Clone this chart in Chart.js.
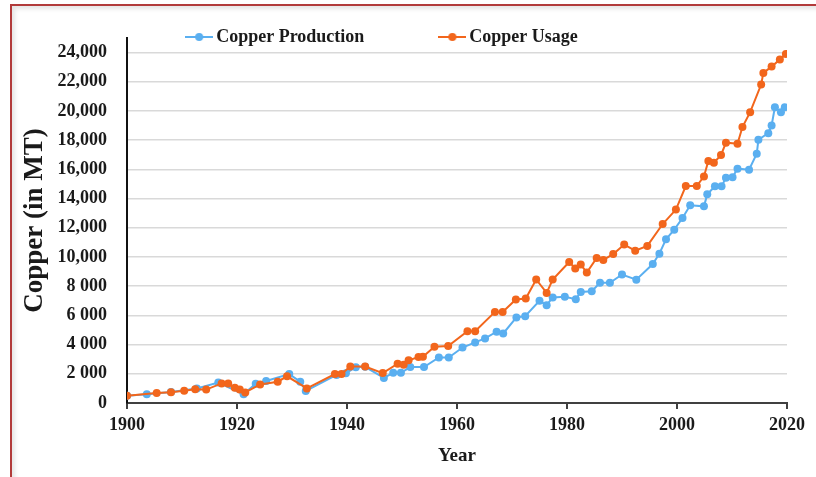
<!DOCTYPE html>
<html>
<head>
<meta charset="utf-8">
<script src="https://cdn.jsdelivr.net/npm/chart.js@4.4.1/dist/chart.umd.min.js"></script>
<style>
html, body { margin: 0; padding: 0; background: #fff; }
#wrap { position: relative; width: 816px; height: 477px; overflow: hidden; }
#frame { position: absolute; left: 10px; top: 4px; width: 820px; height: 490px;
  border-top: 2px solid #b23b3b; border-left: 2px solid #b23b3b;
  box-shadow: inset 3px 3px 4px rgba(0,0,0,0.10); }
canvas { position: absolute; left: 0; top: 0; }
</style>
</head>
<body>
<div id="wrap"><div id="frame"></div><canvas id="myChart" width="816" height="477"></canvas></div>
<script>
// copper production (blue)
const prodYears = [1900, 1903.6, 1908, 1912.7, 1916.6, 1921.2, 1923.4, 1925.3, 1929.5, 1931.5, 1932.5,
  1938.1, 1939.8, 1941.6, 1943.3, 1946.7, 1948.4, 1949.8, 1951.5, 1954, 1956.7, 1958.5,
  1961, 1963.3, 1965.1, 1967.2, 1968.4, 1970.8, 1972.4, 1975, 1976.3, 1977.4, 1979.6,
  1981.6, 1982.5, 1984.5, 1986, 1987.8, 1990, 1992.6, 1995.6, 1996.8, 1998, 1999.5,
  2001, 2002.4, 2004.9, 2005.5, 2006.9, 2008.1, 2008.9, 2010.1, 2011, 2013.1, 2014.5,
  2014.8, 2016.6, 2017.2, 2017.8, 2018.9, 2019.6];
const prodValues = [500, 600, 750, 1000, 1400, 600, 1320, 1510, 1980, 1460, 830,
  1920, 2030, 2450, 2480, 1720, 2070, 2070, 2460, 2460, 3120, 3120,
  3800, 4150, 4420, 4880, 4760, 5860, 5950, 7000, 6700, 7230, 7270,
  7110, 7610, 7660, 8230, 8230, 8800, 8450, 9520, 10230, 11210, 11870,
  12670, 13540, 13470, 14290, 14840, 14840, 15430, 15470, 16050, 15980, 17070,
  18030, 18480, 19010, 20260, 19920, 20260];

// copper usage (orange)
const usageYears = [1900, 1905.4, 1908, 1910.4, 1912.4, 1914.4, 1917.2, 1918.4, 1919.6, 1920.5, 1921.5,
  1924.2, 1927.4, 1929.1, 1932.7, 1937.8, 1939, 1940.6, 1943.3, 1946.5, 1949.2, 1950.3,
  1951.2, 1953, 1953.8, 1955.9, 1958.4, 1961.9, 1963.3, 1966.9, 1968.3, 1970.7, 1972.5,
  1974.4, 1976.3, 1977.4, 1980.4, 1981.5, 1982.5, 1983.6, 1985.4, 1986.6, 1988.4, 1990.4,
  1992.4, 1994.6, 1997.4, 1999.8, 2001.6, 2003.6, 2004.9, 2005.7, 2006.7, 2008, 2008.9,
  2011, 2011.9, 2013.3, 2015.3, 2015.7, 2017.2, 2018.7, 2019.8];
const usageValues = [500, 690, 730, 840, 940, 920, 1340, 1340, 1040, 920, 720,
  1270, 1460, 1830, 1000, 1980, 1980, 2500, 2500, 2050, 2690, 2620,
  2920, 3150, 3170, 3850, 3900, 4920, 4920, 6240, 6240, 7090, 7160,
  8460, 7540, 8460, 9660, 9210, 9480, 8940, 9940, 9800, 10200, 10850,
  10430, 10760, 12260, 13250, 14860, 14860, 15520, 16570, 16460, 16980, 17830,
  17760, 18900, 19920, 21810, 22610, 23040, 23520, 23910];

const xTickValues = [1900, 1920, 1940, 1960, 1980, 2000, 2020];
const yTickValues = [0, 2000, 4000, 6000, 8000, 10000, 12000, 14000, 16000, 18000, 20000, 22000, 24000];
const yTickLabels = ['0', '2 000', '4 000', '6 000', '8 000', '10,000', '12,000', '14,000', '16,000', '18,000', '20,000', '22,000', '24,000'];

const blue = '#5aaff0';
const orange = '#f2661c';
const serif = 'Liberation Serif';
const legendDX = -9;
const legendPad = 80;

function legendIcon(color) {
  const c = document.createElement('canvas');
  c.width = 28; c.height = 12;
  const g = c.getContext('2d');
  g.strokeStyle = color; g.lineWidth = 2;
  g.beginPath(); g.moveTo(0, 6); g.lineTo(28, 6); g.stroke();
  g.fillStyle = color;
  g.beginPath(); g.arc(14, 6, 4, 0, Math.PI * 2); g.fill();
  return c;
}
const legendIcons = [legendIcon(blue), legendIcon(orange)];

// keep the legend out of the layout, then put it level with the axis top
const legendShift = {
  id: 'legendShift',
  afterInit(chart) {
    const lg = chart.legend;
    const fit = lg.fit.bind(lg);
    lg.fit = function () { fit(); this.realHeight = this.height; this.height = 0; };
  },
  afterLayout(chart) {
    const lg = chart.legend;
    const h = lg.realHeight;
    lg.top = 37 - legendPad - 9;
    lg.bottom = lg.top + h;
    lg.height = h;
    lg.left += legendDX;
    lg.right += legendDX;
  }
};

let ctx = document.getElementById('myChart').getContext('2d');
let chart = new Chart(ctx, {
    type: 'line',
    data: {
        datasets: [{
            label: 'Copper Production',
            data: prodYears.map((x, i) => ({ x: x, y: prodValues[i] })),
            borderColor: blue,
            backgroundColor: blue,
            pointBackgroundColor: blue,
            borderWidth: 2,
            pointRadius: 4,
            pointBorderWidth: 0,
            order: 1
        }, {
            label: 'Copper Usage',
            data: usageYears.map((x, i) => ({ x: x, y: usageValues[i] })),
            borderColor: orange,
            backgroundColor: orange,
            pointBackgroundColor: orange,
            borderWidth: 2,
            pointRadius: 4,
            pointBorderWidth: 0,
            order: 0
        }]
    },
    options: {
        responsive: false,
        animation: false,
        layout: { padding: { top: 38, right: 29, bottom: 0, left: 0 } },
        plugins: {
            tooltip: { enabled: false },
            legend: {
                position: 'top',
                labels: {
                    usePointStyle: true,
                    pointStyleWidth: 16,
                    padding: legendPad,
                    color: '#1a1a1a',
                    font: { family: serif, size: 18, weight: 'bold' },
                    sort: (a, b) => a.datasetIndex - b.datasetIndex,
                    generateLabels(chart) {
                        const items = Chart.defaults.plugins.legend.labels.generateLabels(chart);
                        items.forEach(it => { it.pointStyle = legendIcons[it.datasetIndex]; });
                        return items;
                    }
                }
            }
        },
        scales: {
            x: {
                type: 'linear',
                min: 1900,
                max: 2020,
                afterFit: (s) => { s.height = 74; },
                afterBuildTicks: (s) => { s.ticks = xTickValues.map(v => ({ value: v })); },
                ticks: {
                    autoSkip: false,
                    maxRotation: 0,
                    padding: 6,
                    color: '#1a1a1a',
                    font: { family: serif, size: 18, weight: 'bold' },
                    callback: (v) => String(v)
                },
                grid: { drawOnChartArea: false, drawTicks: true, tickLength: 6, color: '#404040', lineWidth: 2 },
                border: { color: '#404040', width: 2 },
                title: {
                    display: true,
                    text: 'Year',
                    color: '#1a1a1a',
                    font: { family: serif, size: 19, weight: 'bold' },
                    padding: { top: 4, bottom: 10 }
                }
            },
            y: {
                min: 0,
                max: 25000,
                afterFit: (s) => { s.width = 127; },
                afterBuildTicks: (s) => { s.ticks = yTickValues.map(v => ({ value: v })); },
                ticks: {
                    autoSkip: false,
                    padding: 20,
                    color: '#1a1a1a',
                    font: { family: serif, size: 18, weight: 'bold' },
                    callback: (v) => {
                        const i = yTickValues.indexOf(v);
                        return i >= 0 ? yTickLabels[i] : '';
                    }
                },
                grid: { drawTicks: false, color: '#d9d9d9', lineWidth: 1.5 },
                border: { color: '#111', width: 2 },
                title: {
                    display: true,
                    text: 'Copper (in MT)',
                    color: '#1a1a1a',
                    font: { family: serif, size: 27, weight: 'bold' },
                    padding: { top: 19, bottom: 0 }
                }
            }
        }
    },
    plugins: [legendShift]
});
</script>
</body>
</html>
